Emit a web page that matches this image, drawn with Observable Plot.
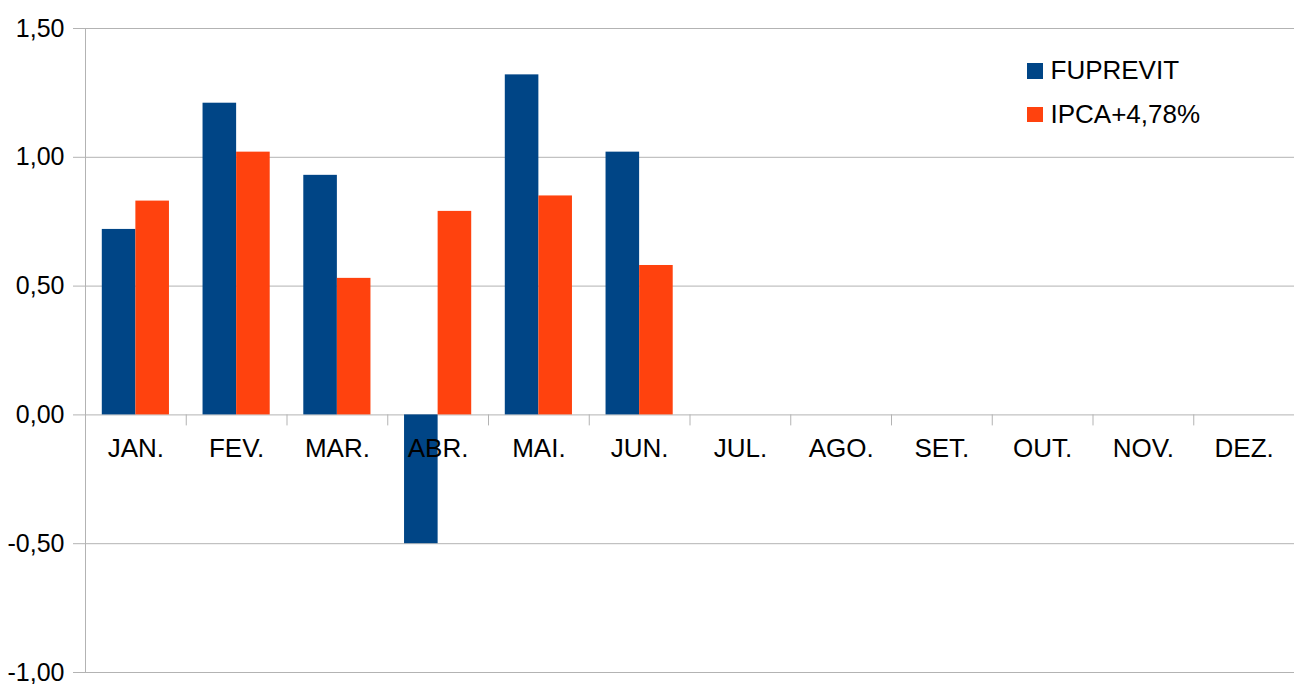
<!DOCTYPE html>
<html><head><meta charset="utf-8">
<script src="https://cdn.jsdelivr.net/npm/d3@7"></script>
<script src="https://cdn.jsdelivr.net/npm/@observablehq/plot@0.6"></script>
<style>
body{margin:0;background:#fff;font-family:"Liberation Sans",Arial,sans-serif}
#wrap{position:relative;width:1294px;height:684px}
.legend{position:absolute;left:1027px;top:49px;font-size:26px;color:#000}
.item{display:flex;align-items:center;height:43.5px}
.sw{width:15.5px;height:15.5px;margin-right:8px}
</style></head><body><div id="wrap"></div>
<script>
const months = ["JAN.","FEV.","MAR.","ABR.","MAI.","JUN.","JUL.","AGO.","SET.","OUT.","NOV.","DEZ."];
const seriesNames = ["FUPREVIT","IPCA+4,78%"];
const colors = ["#004586","#ff420e"];
const fuprevit = [0.72,1.21,0.93,-0.50,1.32,1.02];
const ipca = [0.83,1.02,0.53,0.79,0.85,0.58];
const yTicks = [-1,-0.5,0,0.5,1,1.5];

const W=1294,H=684,ML=85,MR=0,MT=28,MB=12;
const bw=(W-ML-MR)/months.length;
const fData = fuprevit.map((v,i)=>({m:months[i], v}));
const pData = ipca.map((v,i)=>({m:months[i], v}));
const grid = "#b3b3b3";
const fmt = d => d.toFixed(2).replace(".",",");

const chart = Plot.plot({
  width:W, height:H, marginLeft:ML, marginRight:MR, marginTop:MT, marginBottom:MB,
  style:{fontFamily:"Liberation Sans, Arial, sans-serif", fontSize:"26px", color:"#000", background:"#fff"},
  x:{type:"band", domain:months, padding:0, round:false, axis:null},
  y:{domain:[-1,1.5], axis:null, label:null},
  marks:[
    Plot.gridY({ticks:yTicks, stroke:grid, strokeOpacity:1}),
    Plot.axisY({ticks:yTicks, tickFormat:fmt, tickSize:12, tickPadding:9, stroke:grid, fill:"#000", fontSize:25, label:null}),
    Plot.ruleX([months[0]], {x:d=>d, y1:-1, y2:1.5, dx:-bw/2, stroke:grid}),
    Plot.ruleX(months, {x:d=>d, y1:0, y2:0, insetBottom:-11, dx:-bw/2, stroke:grid}),
    Plot.barY(fData, {x:"m", y:"v", fill:colors[0], insetLeft:bw/6, insetRight:bw/2}),
    Plot.barY(pData, {x:"m", y:"v", fill:colors[1], insetLeft:bw/2, insetRight:bw/6}),
    Plot.text(months, {x:d=>d, y:0, dy:34, fill:"#000", fontSize:26})
  ]
});
const wrap = document.getElementById("wrap");
wrap.appendChild(chart);
const leg = document.createElement("div");
leg.className = "legend";
seriesNames.forEach((s,i)=>{
  const it = document.createElement("div"); it.className="item";
  const sw = document.createElement("div"); sw.className="sw"; sw.style.background=colors[i];
  const t = document.createElement("span"); t.textContent = s;
  it.appendChild(sw); it.appendChild(t); leg.appendChild(it);
});
wrap.appendChild(leg);
</script>
</body></html>
